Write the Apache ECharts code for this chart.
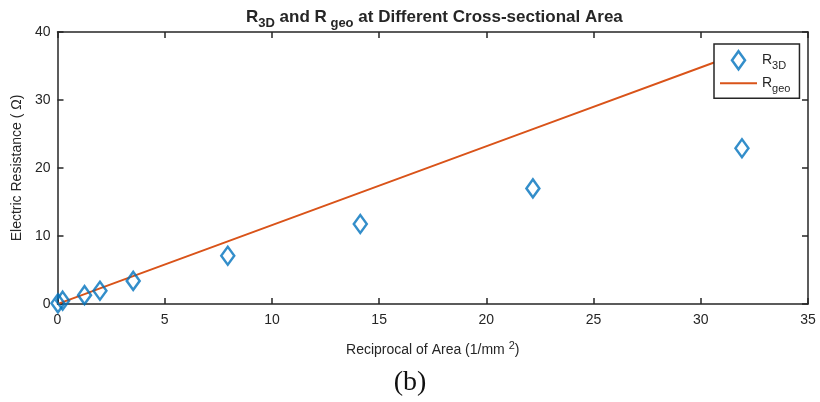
<!DOCTYPE html>
<html>
<head>
<meta charset="utf-8">
<script src="https://cdn.jsdelivr.net/npm/echarts@6/dist/echarts.min.js"></script>
<style>
  html, body { margin: 0; padding: 0; background: #fff; }
  #chart { width: 820px; height: 402px; }
</style>
</head>
<body>
<div id="chart"></div>
<script>
// Reciprocal of cross-sectional area (1/mm^2)
const reciprocalArea = [0.02, 0.24, 1.26, 1.98, 3.53, 7.94, 14.12, 22.17, 31.92];
// Simulated (3D) resistance, ohm
const r3d = [0.1, 0.49, 1.3, 1.95, 3.4, 7.1, 11.76, 17.0, 22.9];
// Geometric resistance, ohm
const rGeo = [0.02, 0.28, 1.46, 2.30, 4.10, 9.21, 16.38, 25.72, 37.03];
// Axis tick values
const xTicks = [0, 5, 10, 15, 20, 25, 30, 35];
const yTicks = [0, 10, 20, 30, 40];

const INK = '#262626';
const FONT = '"Liberation Sans", Arial, sans-serif';

const chart = echarts.init(document.getElementById('chart'), null, { renderer: 'canvas' });

const axisCommon = {
  axisLine: { show: true, onZero: false, lineStyle: { color: INK, width: 1.5 } },
  axisTick: { show: true, inside: true, length: 6, lineStyle: { color: INK, width: 1.5 } },
  splitLine: { show: false }
};

const subRich = {
  b: { fontFamily: FONT, fontSize: 14, color: INK, lineHeight: 22, verticalAlign: 'middle' },
  s: { fontFamily: FONT, fontSize: 11, color: INK, lineHeight: 11, verticalAlign: 'bottom' }
};

const option = {
  animation: false,
  backgroundColor: '#fff',
  title: {
    left: 241,
    top: -1,
    text: '{b|R}{s|3D}{b| and R}{s| geo}{b| at Different Cross-sectional Area}',
    textStyle: {
      rich: {
        b: { fontFamily: FONT, fontSize: 17, fontWeight: 'bold', color: INK, lineHeight: 26, verticalAlign: 'middle' },
        s: { fontFamily: FONT, fontSize: 13, fontWeight: 'bold', color: INK, lineHeight: 13, verticalAlign: 'bottom' }
      }
    }
  },
  grid: { left: 57.5, right: 12, top: 32, bottom: 98, containLabel: false },
  legend: {
    orient: 'vertical',
    left: 714,
    top: 44,
    padding: [6, 9, 4, 6],
    itemGap: 5,
    itemWidth: 37,
    itemHeight: 18,
    backgroundColor: '#fff',
    borderColor: INK,
    borderWidth: 1.5,
    borderRadius: 0,
    symbolKeepAspect: true,
    data: [
      {
        name: 'R3D',
        icon: 'path://M0,-9L6.5,0L0,9L-6.5,0Z',
        itemStyle: { color: 'rgba(0,0,0,0)', borderColor: '#0072BD', borderWidth: 2.5 }
      },
      {
        name: 'Rgeo',
        icon: 'path://M0,0L37,0L37,2L0,2Z',
        itemStyle: { color: '#D95319', borderWidth: 0 }
      }
    ],
    formatter: function (name) {
      return name === 'R3D' ? '{b|R}{s|3D}' : '{b|R}{s|geo}';
    },
    textStyle: { rich: subRich }
  },
  xAxis: [
    Object.assign({
      type: 'value', position: 'bottom', min: xTicks[0], max: xTicks[xTicks.length - 1], interval: 5,
      name: '{t|Reciprocal of Area (1/mm }{p|2}{t|)}',
      nameLocation: 'middle', nameGap: 36,
      nameTextStyle: {
        rich: {
          t: { fontFamily: FONT, fontSize: 14, color: INK, lineHeight: 20, verticalAlign: 'middle' },
          p: { fontFamily: FONT, fontSize: 11, color: INK, lineHeight: 11, verticalAlign: 'top' }
        }
      },
      axisLabel: { fontFamily: FONT, fontSize: 14, color: INK, margin: 9 }
    }, axisCommon),
    Object.assign({
      type: 'value', position: 'top', min: xTicks[0], max: xTicks[xTicks.length - 1], interval: 5,
      axisLabel: { show: false }
    }, axisCommon)
  ],
  yAxis: [
    Object.assign({
      type: 'value', position: 'left', min: yTicks[0], max: yTicks[yTicks.length - 1], interval: 10,
      name: 'Electric Resistance ( Ω)',
      nameLocation: 'middle', nameGap: 16, nameRotate: 90,
      nameTextStyle: { fontFamily: FONT, fontSize: 14, color: INK },
      axisLabel: { fontFamily: FONT, fontSize: 14, color: INK, margin: 7 }
    }, axisCommon),
    Object.assign({
      type: 'value', position: 'right', min: yTicks[0], max: yTicks[yTicks.length - 1], interval: 10,
      axisLabel: { show: false }
    }, axisCommon)
  ],
  graphic: [
    {
      type: 'text',
      x: 410,
      y: 383,
      style: {
        text: '(b)',
        font: '28px "Liberation Serif", "DejaVu Serif", serif',
        fill: '#111',
        align: 'center',
        verticalAlign: 'middle'
      }
    }
  ],
  series: [
    {
      name: 'Rgeo',
      type: 'line',
      data: reciprocalArea.map((x, i) => [x, rGeo[i]]),
      symbol: 'none',
      lineStyle: { color: '#D95319', width: 2 },
      itemStyle: { color: '#D95319' },
      z: 2
    },
    {
      name: 'R3D',
      type: 'scatter',
      data: reciprocalArea.map((x, i) => [x, r3d[i]]),
      symbol: 'diamond',
      symbolSize: [13, 18],
      clip: false,
      itemStyle: { color: 'rgba(0,0,0,0)', borderColor: '#0072BD', borderWidth: 2.5 },
      z: 3
    }
  ]
};

chart.setOption(option);
</script>
</body>
</html>
